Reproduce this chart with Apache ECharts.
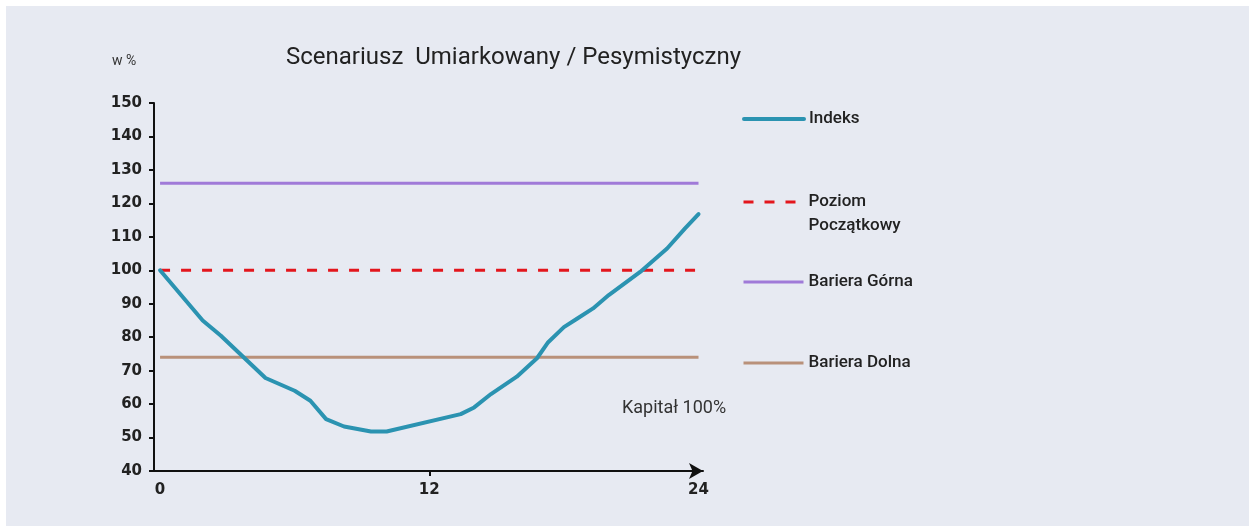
<!DOCTYPE html>
<html>
<head>
<meta charset="utf-8">
<script src="https://cdn.jsdelivr.net/npm/echarts@6/dist/echarts.min.js"></script>
<style>
  html, body { margin: 0; padding: 0; background: #ffffff; }
  #chart { position: absolute; left: 6px; top: 6px; width: 1243px; height: 520px; background: #e7eaf2; }
</style>
</head>
<body>
<div id="chart"></div>
<script>
// miesiące (oś X) i wartości indeksu
var months = [0, 1.9, 2.7, 4.7, 6, 6.7, 7.4, 8.2, 9.4, 10.1, 13.4, 14, 14.75, 15.9, 16.8, 17.3, 18, 18.6, 19.3, 20, 21.4, 22.6, 23.4, 24];
var indeks = [100, 85, 80.5, 67.8, 64, 61, 55.5, 53.3, 51.8, 51.8, 57, 59, 63, 68.2, 73.7, 78.5, 83, 85.6, 88.6, 92.6, 99.5, 106.5, 112.5, 116.8];
var poziomPoczatkowy = 100;
var barieraGorna = 126;
var barieraDolna = 74;
var xTicks = [0, 12, 24];

var font = 'Roboto';
var axisFont = 'DejaVu Sans';

function flat(v) {
    return [[0, v], [24, v]];
}

function legendFor(name, top, width, extra) {
    var l = {
        orient: 'vertical',
        left: 731,
        top: top,
        data: [name],
        itemWidth: 60,
        itemHeight: 14,
        itemGap: 7,
        selectedMode: false,
        itemStyle: { opacity: 0 },
        lineStyle: { width: width },
        textStyle: { fontFamily: font, fontSize: 17, fontWeight: 500, color: '#222', lineHeight: 24 }
    };
    return Object.assign(l, extra || {});
}

var chart = echarts.init(document.getElementById('chart'), null, { renderer: 'canvas' });

var options = {
    animation: false,
    title: {
        text: 'Scenariusz  Umiarkowany / Pesymistyczny',
        left: 275,
        top: 35,
        textStyle: { fontFamily: font, fontSize: 24, fontWeight: 400, color: '#222' }
    },
    grid: {
        left: 148,
        top: 97,
        width: 549,
        height: 368
    },
    xAxis: {
        type: 'value',
        min: -0.27,
        max: 24.2,
        splitLine: { show: false },
        axisLine: {
            show: true,
            onZero: false,
            lineStyle: { color: '#111', width: 2 },
            symbol: ['none', 'arrow'],
            symbolSize: [12, 14],
            symbolOffset: [0, 0]
        },
        axisTick: { show: true, customValues: [12], length: 5, lineStyle: { color: '#111', width: 2 } },
        axisLabel: {
            customValues: xTicks,
            margin: 12,
            fontFamily: axisFont, fontSize: 15, fontWeight: 'bold', color: '#222'
        }
    },
    yAxis: {
        type: 'value',
        min: 40,
        max: 150,
        interval: 10,
        splitLine: { show: false },
        axisLine: { show: true, onZero: false, lineStyle: { color: '#111', width: 2 } },
        axisTick: { show: true, length: 5, lineStyle: { color: '#111', width: 2 } },
        axisLabel: { margin: 12, fontFamily: axisFont, fontSize: 15, fontWeight: 'bold', color: '#222' }
    },
    legend: [
        legendFor('Indeks', 96, 4),
        legendFor('Poziom Początkowy', 155, 3, {
            formatter: function () { return ' \nPoziom\nPoczątkowy'; }
        }),
        legendFor('Bariera Górna', 259, 3),
        legendFor('Bariera Dolna', 340, 3)
    ],
    graphic: [
        {
            type: 'text',
            left: 106,
            top: 48,
            style: { text: 'w %', font: '14px Roboto', fill: '#333' }
        },
        {
            type: 'text',
            left: 616,
            top: 393,
            style: { text: 'Kapitał 100%', font: '18px Roboto', fill: '#333' }
        }
    ],
    series: [
        {
            name: 'Bariera Górna',
            type: 'line',
            data: flat(barieraGorna),
            symbol: 'none',
            lineStyle: { color: '#a07ad8', width: 3 },
            itemStyle: { color: '#a07ad8' }
        },
        {
            name: 'Bariera Dolna',
            type: 'line',
            data: flat(barieraDolna),
            symbol: 'none',
            lineStyle: { color: '#b9917a', width: 3 },
            itemStyle: { color: '#b9917a' }
        },
        {
            name: 'Poziom Początkowy',
            type: 'line',
            data: flat(poziomPoczatkowy),
            symbol: 'none',
            lineStyle: { color: '#e3161d', width: 3, type: [10, 11] },
            itemStyle: { color: '#e3161d' }
        },
        {
            name: 'Indeks',
            type: 'line',
            data: months.map(function (m, i) { return [m, indeks[i]]; }),
            symbol: 'none',
            lineStyle: { color: '#2b93b1', width: 4, join: 'round', cap: 'round' },
            itemStyle: { color: '#2b93b1' }
        }
    ]
};

chart.setOption(options);
</script>
</body>
</html>
